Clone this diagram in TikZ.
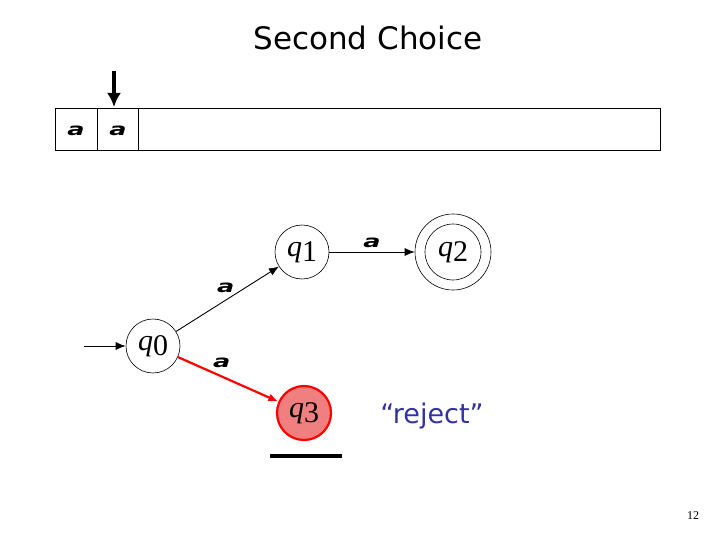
\documentclass[tikz,border=0pt]{standalone}
\usepackage{amsmath}
\usepackage{amssymb}
\usepackage{fontspec}
\usetikzlibrary{arrows.meta}
\newfontfamily\sansfont{DejaVu Sans}
\newfontfamily\seriffont{Liberation Serif}
\definecolor{rejectblue}{RGB}{50,50,160}
\definecolor{deadfill}{RGB}{240,128,128}
\newcommand{\stname}[1]{{\seriffont\itshape q}\raisebox{-0.18em}{\seriffont #1}}
\newcommand{\syma}{\scalebox{1.5}[1]{a}}

\begin{document}
\begin{tikzpicture}[x=1pt,y=-1pt,auto,->,>={Latex[length=10pt,width=8pt]},line width=0.9pt,
    state/.style={circle,draw,line width=0.6pt,minimum size=54pt,inner sep=0pt,font=\fontsize{30}{30}\selectfont},
    sym/.style={font=\sansfont\bfseries\itshape\fontsize{17}{17}\selectfont}]
  \useasboundingbox (0,0) rectangle (720,540);
  \node[font=\sansfont\fontsize{31}{34}\selectfont] (title) at (368,38) {Second Choice};

  % tape and head
  \draw[-,line width=0.7pt] (55,108) rectangle (660,150);
  \draw[-,line width=0.7pt] (97,108) -- (97,150); \draw[-,line width=0.7pt] (138,108) -- (138,150);
  \node[sym] (c1) at (76,131) {\syma}; \node[sym] (c2) at (118,131) {\syma};
  \coordinate (h) at (114,71); \coordinate (hc) at (114,107);
  \draw[line width=3.5pt,-{Latex[length=14pt,width=14pt]}] (h) -- (hc);

  % automaton
  \node[state] (q0) at (153,346) {\stname{0}};
  \node[state] (q1) at (302,252) {\stname{1}};
  \node[state,minimum size=76pt] (q2) at (453,252) {\stname{2}};
  \draw[-,line width=0.6pt] (q2) circle (28pt);
  \node[state,draw=red,line width=2.2pt,fill=deadfill] (q3) at (304,413) {\stname{3}};
  \coordinate (start) at (84,346);

  \draw (start) -- (q0);
  \draw (q0) -- node[sym,pos=0.58,inner sep=1pt] {\syma} (q1);
  \draw (q1) -- node[sym] {\syma} (q2);
  \draw[red,line width=2.2pt] (q0) -- node[sym,text=black,pos=0.32,inner sep=2pt] {\syma} (q3);

  \draw[-,line width=3.5pt] (270,456) -- (342,456);
  \node[font=\sansfont\fontsize{27}{30}\selectfont,text=rejectblue] (rej) at (432,416) {“reject”};
  \node[font=\seriffont\fontsize{12}{14}\selectfont] (page) at (693,516) {12};
\end{tikzpicture}
\end{document}
